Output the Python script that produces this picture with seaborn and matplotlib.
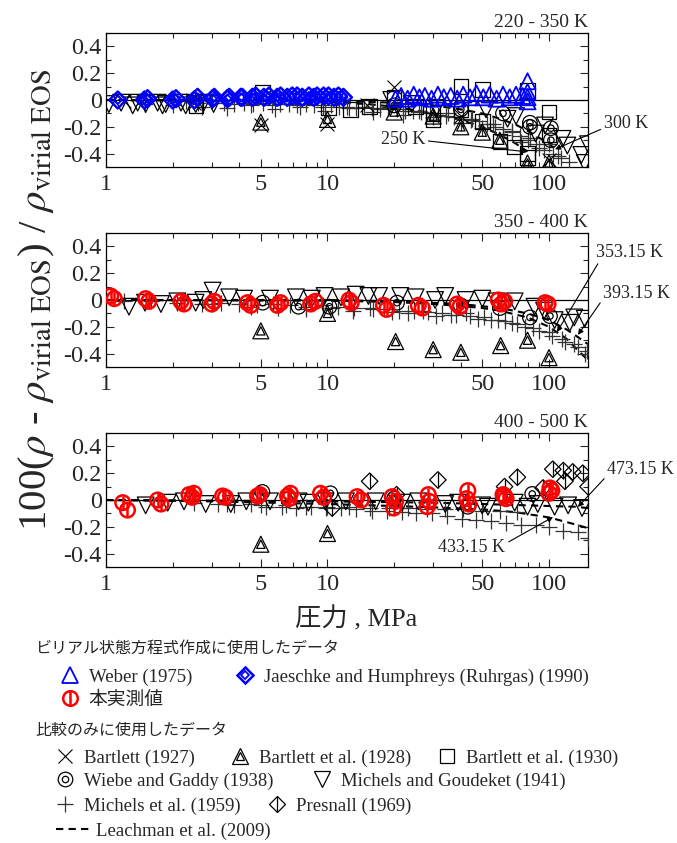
import matplotlib
matplotlib.use("Agg")
import matplotlib.pyplot as plt
from matplotlib.lines import Line2D
from matplotlib.ticker import FixedLocator, NullFormatter
import seaborn as sns

sns.set_style("ticks")
plt.rcParams["font.family"] = ["Liberation Serif", "Noto Sans CJK JP"]
plt.rcParams["mathtext.fontset"] = "stix"
plt.rcParams["axes.unicode_minus"] = False

# ---------------- 220 - 350 K ----------------
lo_jaeschke_p = [1.13, 1.49, 1.54, 2.00, 2.07, 2.50, 2.59, 3.03, 3.08, 3.53, 3.60, 4.06, 4.12, 4.58, 4.74, 5.16,
                 5.44, 5.93, 6.14, 6.58, 6.93, 7.29, 7.69, 8.24, 8.67, 8.97, 9.60, 10.1, 10.7, 11.2, 11.8]
lo_jaeschke_v = [0.00, 0.00, 0.01, 0.00, 0.01, 0.00, 0.02, 0.01, 0.02, 0.01, 0.02, 0.02, 0.02, 0.02, 0.03, 0.02,
                 0.03, 0.02, 0.03, 0.02, 0.03, 0.03, 0.02, 0.03, 0.02, 0.03, 0.03, 0.03, 0.02, 0.03, 0.02]
lo_weber_p = [20.3, 21.5, 23.0, 24.5, 26.0, 27.5, 29.5, 31.5, 33.5, 36.0, 38.5, 41.0, 44.0, 47.0, 50.5, 54.0,
              58.0, 62.0, 66.5, 71.0, 76.0, 80.0, 80.0, 80.0, 80.0]
lo_weber_v = [0.01, 0.03, 0.01, 0.04, 0.02, 0.03, 0.01, 0.04, 0.02, 0.03, 0.01, 0.04, 0.02, 0.05, 0.02, 0.04,
              0.01, 0.04, 0.02, 0.04, 0.03, 0.14, 0.06, 0.02, -0.01]
lo_bartlett27_p = [1.2, 2.5, 5.0, 10.0, 15.0, 20.0, 40.0, 100.0]
lo_bartlett27_v = [-0.01, -0.02, -0.19, -0.18, -0.04, 0.10, -0.12, -0.45]
lo_bartlett28_p = [5.0, 10.0, 20.0, 30.0, 40.0, 50.0, 60.0, 80.0, 100.0]
lo_bartlett28_v = [-0.165, -0.145, -0.09, -0.12, -0.20, -0.24, -0.30, -0.47, -0.47]
lo_bartlett30_p = [2.55, 5.1, 10.1, 12.7, 15.5, 20.0, 25.0, 30.0, 30.0, 40.0, 40.0, 50.0, 50.0, 60.0, 70.0,
                   80.0, 80.0, 80.0, 100.0, 100.0]
lo_bartlett30_v = [-0.04, 0.06, -0.06, -0.07, -0.05, 0.02, -0.05, -0.15, -0.10, 0.10, -0.07, 0.08, -0.16, -0.31,
                   -0.35, 0.07, -0.40, -0.43, -0.09, -0.26]
lo_wiebe_p = [20.0, 40.0, 62.0, 82.0, 82.0, 102.0, 102.0]
lo_wiebe_v = [-0.04, -0.07, -0.10, -0.17, -0.20, -0.21, -0.30]
lo_goudeket_p = [1.03, 1.17, 1.32, 1.39, 1.51, 1.71, 1.80, 1.86, 2.18, 2.29, 2.54, 2.76, 3.06, 19.4, 24.0,
                 31.0, 52.0, 65.0, 71.0, 87.0, 96.0, 115.0, 121.0, 140.0, 145.0, 150.0]
lo_goudeket_v = [-0.03, -0.02, -0.04, -0.02, -0.03, -0.02, -0.04, -0.03, -0.02, -0.04, -0.03, -0.02, -0.03,
                 0.00, -0.03, -0.06, -0.07, -0.14, -0.12, -0.25, -0.19, -0.29, -0.34, -0.41, -0.47, -0.33]
lo_michels59a_p = [2.3, 2.6, 3.0, 3.4, 3.8, 4.2, 4.6, 5.1, 5.6, 6.1, 6.7, 7.3, 8.0, 8.7, 9.5, 10.4, 11.3, 12.3,
                   13.4, 14.6, 15.9, 17.3, 18.8, 20.5, 22.3, 24.3, 26.5, 28.9, 31.5, 34.3, 37.4, 40.7, 44.3,
                   48.2, 52.5, 57.2, 62.3, 67.8, 73.8, 80.4, 87.5, 95.3, 103.8, 113.0, 123.0]
lo_michels59a_v = [-0.01, -0.02, -0.01, -0.02, -0.03, -0.02, -0.03, -0.02, -0.04, -0.03, -0.03, -0.04, -0.03,
                   -0.04, -0.05, -0.04, -0.05, -0.05, -0.06, -0.05, -0.06, -0.07, -0.06, -0.07, -0.08, -0.08,
                   -0.09, -0.10, -0.11, -0.12, -0.13, -0.14, -0.15, -0.16, -0.18, -0.20, -0.22, -0.24, -0.27,
                   -0.30, -0.33, -0.37, -0.40, -0.43, -0.46]
lo_michels59b_p = [1.5, 2.0, 2.7, 3.5, 4.5, 5.8, 7.5, 9.7, 12.5, 16.0, 19.0, 22.0, 26.0, 30.0, 35.0, 40.0,
                   45.0, 50.0, 56.0, 62.0, 68.0, 75.0, 82.0, 90.0, 100.0, 110.0]
lo_michels59b_v = [-0.03, -0.04, -0.05, -0.06, -0.04, -0.07, -0.05, -0.08, -0.06, -0.09, -0.05, -0.11, -0.08,
                   -0.13, -0.10, -0.17, -0.14, -0.21, -0.18, -0.26, -0.23, -0.31, -0.28, -0.36, -0.33, -0.42]
lo_leach250_p = [1, 5, 10, 15, 20, 30, 40, 50, 60, 70, 80]
lo_leach250_v = [0.0, -0.005, -0.015, -0.03, -0.05, -0.10, -0.15, -0.20, -0.26, -0.32, -0.385]
lo_leach300_p = [1, 10, 20, 30, 40, 50, 60, 70, 80, 90, 100, 106]
lo_leach300_v = [0.0, -0.005, -0.02, -0.04, -0.07, -0.10, -0.14, -0.18, -0.23, -0.28, -0.33, -0.36]

# ---------------- 350 - 400 K ----------------
mid_own_p = [1.05, 1.09, 1.51, 1.56, 2.18, 2.25, 3.00, 3.08, 4.35, 4.50, 5.94, 6.14, 8.40, 8.80, 12.5, 12.8,
             17.9, 18.5, 25.7, 26.8, 38.5, 39.6, 59.0, 61.0, 63.0, 96.0, 99.0]
mid_own_v = [0.03, 0.01, 0.01, -0.01, -0.01, -0.03, -0.03, -0.01, -0.02, -0.04, -0.04, -0.02, -0.03, -0.01,
             0.00, -0.02, -0.04, -0.07, -0.04, -0.06, -0.03, -0.05, 0.00, -0.03, -0.01, -0.02, -0.03]
mid_bartlett28_p = [5.0, 10.0, 20.3, 30.0, 40.0, 60.5, 80.0, 100.0]
mid_bartlett28_v = [-0.23, -0.10, -0.31, -0.37, -0.39, -0.34, -0.30, -0.43]
mid_wiebe_p = [5.1, 7.4, 10.2, 20.6, 40.0, 60.0, 82.0, 101.0]
mid_wiebe_v = [-0.02, -0.05, -0.05, -0.02, -0.04, -0.06, -0.13, -0.12]
mid_goudeket_p = [1.27, 1.5, 1.77, 2.1, 2.54, 2.75, 3.03, 3.6, 4.2, 5.5, 7.2, 8.5, 9.7, 11.5, 13.4, 15.3, 17.1,
                  21.3, 25.0, 30.6, 34.0, 42.0, 50.0, 58.0, 70.0, 86.0, 95.0, 106.0, 124.0, 130.0, 145.0]
mid_goudeket_v = [-0.05, -0.02, -0.03, -0.01, -0.02, 0.00, 0.07, 0.02, 0.01, 0.01, 0.02, 0.01, 0.03, 0.02,
                  0.04, 0.03, 0.03, 0.03, 0.02, 0.00, 0.03, 0.00, 0.01, -0.01, -0.01, -0.05, -0.08, -0.15,
                  -0.17, -0.13, -0.14]
mid_michels59a_p = [1.2, 1.6, 2.1, 2.7, 3.3, 4.0, 4.8, 5.7, 6.8, 8.0, 9.5, 11.2, 13.2, 15.5, 18.0, 21.0, 24.5,
                    28.5, 33.0, 38.0, 44.0, 51.0, 59.0, 68.0, 78.0, 90.0, 103.0, 118.0, 135.0, 148.0]
mid_michels59a_v = [-0.01, -0.01, -0.02, -0.03, -0.02, -0.03, -0.04, -0.03, -0.04, -0.05, -0.04, -0.05, -0.06,
                    -0.06, -0.07, -0.08, -0.08, -0.09, -0.10, -0.11, -0.12, -0.13, -0.15, -0.17, -0.20, -0.23,
                    -0.27, -0.31, -0.35, -0.38]
mid_michels59b_p = [3.0, 4.5, 6.0, 8.0, 10.5, 13.0, 16.0, 19.5, 23.0, 27.0, 31.0, 36.0, 42.0, 48.0, 55.0, 63.0,
                    72.0, 85.0, 100.0, 115.0, 130.0, 145.0]
mid_michels59b_v = [-0.03, -0.05, -0.06, -0.07, -0.06, -0.08, -0.07, -0.09, -0.10, -0.08, -0.12, -0.11, -0.10,
                    -0.14, -0.15, -0.16, -0.18, -0.21, -0.24, -0.29, -0.33, -0.40]
mid_leach353_p = [1, 10, 20, 30, 40, 50, 60, 80, 100, 120, 150]
mid_leach353_v = [0.0, -0.005, -0.015, -0.03, -0.045, -0.06, -0.08, -0.13, -0.20, -0.29, -0.45]
mid_leach393_p = [1, 10, 20, 40, 60, 80, 100, 120, 136, 150]
mid_leach393_v = [0.0, 0.0, -0.01, -0.03, -0.06, -0.10, -0.15, -0.22, -0.28, -0.33]

# ---------------- 400 - 500 K ----------------
hi_own_p = [1.19, 1.25, 1.71, 1.77, 2.37, 2.45, 2.49, 3.36, 3.46, 4.83, 4.95, 6.6, 6.8, 6.7, 9.3, 9.6, 13.6,
            14.2, 19.6, 19.9, 20.3, 28.5, 28.2, 28.8, 43.0, 42.5, 43.5, 63.0, 64.0, 62.0, 101.0, 103.0, 100.0]
hi_own_v = [-0.02, -0.075, 0.00, -0.03, 0.04, 0.02, 0.05, 0.03, 0.02, 0.03, 0.04, 0.03, 0.05, 0.01, 0.05, 0.02,
            0.025, 0.00, 0.025, -0.06, -0.01, 0.04, -0.05, -0.01, 0.07, 0.01, -0.03, 0.03, 0.01, 0.04, 0.09,
            0.07, 0.05]
hi_presnall_p = [10.5, 15.5, 20.5, 31.5, 63.0, 72.0, 94.0, 104.0, 116.0, 118.0, 128.0, 142.0, 150.0]
hi_presnall_v = [-0.06, 0.14, 0.04, 0.15, 0.10, 0.17, 0.09, 0.23, 0.22, 0.14, 0.21, 0.20, 0.10]
hi_goudeket_p = [1.51, 1.9, 2.25, 2.82, 3.66, 4.3, 5.5, 7.4, 8.2, 9.8, 12.1, 16.5, 21.7, 25.7, 34.0, 38.9,
                 49.9, 53.0, 70.0, 80.0, 89.0, 106.0, 122.0, 141.0]
hi_goudeket_v = [-0.04, -0.02, -0.01, -0.03, -0.03, -0.01, -0.01, -0.01, -0.02, -0.01, -0.01, -0.01, -0.02,
                 -0.01, -0.03, -0.02, -0.04, -0.05, -0.02, -0.05, -0.03, -0.05, -0.04, -0.06]
hi_wiebe_p = [5.08, 10.3, 20.0, 43.0, 84.0]
hi_wiebe_v = [0.06, 0.05, 0.01, -0.05, 0.045]
hi_bartlett28_p = [5.0, 10.0]
hi_bartlett28_v = [-0.33, -0.25]
hi_michels59a_p = [3.2, 3.8, 4.5, 5.3, 6.2, 7.2, 8.4, 9.8, 11.5, 13.5, 15.8, 18.5, 21.6, 25.2, 29.5, 34.5,
                   40.3, 47.0, 55.0, 64.0, 75.0, 87.0, 100.0, 116.0, 135.0, 150.0]
hi_michels59a_v = [-0.03, -0.04, -0.03, -0.05, -0.05, -0.06, -0.05, -0.06, -0.06, -0.07, -0.08, -0.08, -0.09,
                   -0.10, -0.10, -0.12, -0.14, -0.15, -0.16, -0.17, -0.19, -0.19, -0.20, -0.23, -0.24, -0.28]
hi_michels59b_p = [2.5, 3.5, 5.0, 6.5, 8.0, 10.0, 12.5, 15.5, 19.0, 23.0, 28.0, 34.0, 41.0, 50.0, 60.0, 72.0]
hi_michels59b_v = [-0.02, -0.03, -0.04, -0.04, -0.05, -0.05, -0.05, -0.06, -0.06, -0.06, -0.07, -0.07, -0.07,
                   -0.08, -0.08, -0.09]
hi_leach433_p = [1, 3, 10, 20, 30, 50, 70, 100, 130, 150]
hi_leach433_v = [0.0, -0.01, -0.03, -0.045, -0.055, -0.07, -0.09, -0.13, -0.18, -0.21]
hi_leach473_p = [1, 10, 30, 50, 80, 100, 130, 150]
hi_leach473_v = [0.0, -0.01, -0.02, -0.03, -0.04, -0.045, -0.05, -0.06]

panel_titles = ["220 - 350 K", "350 - 400 K", "400 - 500 K"]
x_ticks = [1, 5, 10, 50, 100]
x_minor = [2, 3, 4, 6, 7, 8, 9, 20, 30, 40, 60, 70, 80, 90]
y_ticks = [-0.4, -0.2, 0.0, 0.2, 0.4]
y_ticklabels = ["-0.4", "-0.2", "0", "0.2", "0.4"]

BLUE = "#0000ff"
RED = "#ff0000"
DASH = (0, (3.5, 2.5))

# marker styles: list of (marker, size in pt, line width) layers drawn on top of each other
STY = {
    "weber": [("^", 11.5, 1.3)],
    "jaeschke": [("D", 8.6, 1.8), ("D", 4.2, 1.3)],
    "own": [("o", 10.5, 1.8), ("|", 10.5, 1.8)],
    "bartlett27": [("x", 10, 0.8)],
    "bartlett28": [("^", 11.5, 0.9), ("^", 6.0, 0.9)],
    "bartlett30": [("s", 10.5, 0.9)],
    "wiebe": [("o", 10.5, 0.9), ("o", 4.6, 0.9)],
    "goudeket": [("v", 12, 0.9)],
    "michels59": [("+", 11, 0.9)],
    "presnall": [("D", 8.4, 0.9), ("|", 11.8, 0.9)],
}
COL = {"weber": BLUE, "jaeschke": BLUE, "own": RED, "michels59": "0.2"}


def draw(ax, p, v, key, z=3):
    color = COL.get(key, "k")
    for mk, ms, lw in STY[key]:
        if mk in ("x", "+", "|"):
            sns.scatterplot(x=p, y=v, ax=ax, marker=mk, s=ms ** 2, color=color,
                            linewidth=lw, zorder=z, legend=False)
        else:
            sns.scatterplot(x=p, y=v, ax=ax, marker=mk, s=ms ** 2, color=color,
                            facecolor="none", edgecolor=color, linewidth=lw,
                            zorder=z, legend=False)


def leach(ax, p, v):
    sns.lineplot(x=p, y=v, ax=ax, color="k", lw=1.5, linestyle=DASH,
                 estimator=None, sort=False, zorder=2.5, legend=False)


W, H = 677, 843
fig = plt.figure(figsize=(W / 100, H / 100), dpi=100)
left, width = 106 / W, 482 / W
tops = [33, 233, 433]
axes = []
for t in tops:
    ax = fig.add_axes([left, 1 - (t + 134) / H, width, 134 / H])
    axes.append(ax)

for ax, title in zip(axes, panel_titles):
    ax.axhline(0, color="k", lw=0.9, zorder=1.5)
    ax.set_xscale("log")
    ax.set_xlim(1, 150)
    ax.set_ylim(-0.5, 0.5)
    ax.xaxis.set_major_locator(FixedLocator(x_ticks))
    ax.xaxis.set_minor_locator(FixedLocator(x_minor))
    ax.set_xticks(x_ticks, labels=[str(t) for t in x_ticks])
    ax.xaxis.set_minor_formatter(NullFormatter())
    ax.set_yticks(y_ticks, labels=y_ticklabels)
    ax.yaxis.set_minor_locator(FixedLocator([-0.5, -0.3, -0.1, 0.1, 0.3, 0.5]))
    ax.tick_params(which="both", direction="in", top=True, right=True, width=0.8)
    ax.tick_params(which="major", length=6, labelsize=17.5)
    ax.tick_params(axis="x", which="major", pad=5)
    ax.tick_params(axis="y", which="major", pad=3)
    ax.tick_params(which="minor", length=3.5)
    for s in ax.spines.values():
        s.set_linewidth(0.9)
        s.set_color("k")
    ax.set_title(title, loc="right", fontsize=14, pad=4)

# 220 - 350 K
a = axes[0]
leach(a, lo_leach250_p, lo_leach250_v)
leach(a, lo_leach300_p, lo_leach300_v)
draw(a, lo_michels59a_p, lo_michels59a_v, "michels59")
draw(a, lo_michels59b_p, lo_michels59b_v, "michels59")
draw(a, lo_goudeket_p, lo_goudeket_v, "goudeket")
draw(a, lo_bartlett27_p, lo_bartlett27_v, "bartlett27")
draw(a, lo_bartlett28_p, lo_bartlett28_v, "bartlett28")
draw(a, lo_bartlett30_p, lo_bartlett30_v, "bartlett30")
draw(a, lo_wiebe_p, lo_wiebe_v, "wiebe")
draw(a, lo_jaeschke_p, lo_jaeschke_v, "jaeschke", z=4)
draw(a, lo_weber_p, lo_weber_v, "weber", z=4)

arrow = dict(arrowstyle="-|>", color="k", lw=0.8, mutation_scale=8, shrinkA=0, shrinkB=0)
a.annotate("250 K", xy=(79.6, -0.387), xytext=(21.9, -0.297), ha="center", va="center",
           fontsize=13, arrowprops=dict(arrow, relpos=(1.0, 0.45)), zorder=6)
a.annotate("300 K", xy=(106.4, -0.368), xytext=(222.7, -0.177), ha="center", va="center",
           fontsize=13, arrowprops=dict(arrow, relpos=(0.0, 0.25)), zorder=6)

# 350 - 400 K
a = axes[1]
leach(a, mid_leach353_p, mid_leach353_v)
leach(a, mid_leach393_p, mid_leach393_v)
draw(a, mid_michels59a_p, mid_michels59a_v, "michels59")
draw(a, mid_michels59b_p, mid_michels59b_v, "michels59")
draw(a, mid_goudeket_p, mid_goudeket_v, "goudeket")
draw(a, mid_bartlett28_p, mid_bartlett28_v, "bartlett28")
draw(a, mid_wiebe_p, mid_wiebe_v, "wiebe")
draw(a, mid_own_p, mid_own_v, "own", z=4)
a.annotate("353.15 K", xy=(108.7, -0.239), xytext=(232, 0.358), ha="center", va="center",
           fontsize=13, arrowprops=dict(arrow, relpos=(0.05, 0.0)), zorder=6)
a.annotate("393.15 K", xy=(135.2, -0.26), xytext=(249.6, 0.052), ha="center", va="center",
           fontsize=13, arrowprops=dict(arrow, relpos=(0.0, 0.2)), zorder=6)

# 400 - 500 K
a = axes[2]
leach(a, hi_leach433_p, hi_leach433_v)
leach(a, hi_leach473_p, hi_leach473_v)
draw(a, hi_michels59a_p, hi_michels59a_v, "michels59")
draw(a, hi_michels59b_p, hi_michels59b_v, "michels59")
draw(a, hi_goudeket_p, hi_goudeket_v, "goudeket")
draw(a, hi_bartlett28_p, hi_bartlett28_v, "bartlett28")
draw(a, hi_wiebe_p, hi_wiebe_v, "wiebe")
draw(a, hi_presnall_p, hi_presnall_v, "presnall")
draw(a, hi_own_p, hi_own_v, "own", z=4)
a.annotate("473.15 K", xy=(135.0, -0.052), xytext=(260, 0.224), ha="center", va="center",
           fontsize=13, arrowprops=dict(arrow, relpos=(0.0, 0.2)), zorder=6)
a.annotate("433.15 K", xy=(104.3, -0.127), xytext=(44.9, -0.351), ha="center", va="center",
           fontsize=13, arrowprops=dict(arrow, relpos=(1.0, 0.7)), zorder=6)
a.set_xlabel("圧力 , MPa", fontsize=19)
a.xaxis.set_label_coords((356 - 106) / 482, -0.29)

fig.text(37 / W, 1 - 300 / H,
         r"100($\rho$ - $\rho_{\mathrm{virial\ EOS}}$) / $\rho_{\mathrm{virial\ EOS}}$",
         rotation=90, ha="center", va="center", fontsize=29.5)


# ---------------- legend ----------------
LEG_FS = 13.5
EM = LEG_FS * 100 / 72  # legend font size in pixels


def handle(key):
    if key == "leach":
        return Line2D([], [], color="k", lw=1.5, ls=DASH)
    color = COL.get(key, "k")
    parts = [Line2D([], [], ls="none", marker=mk, ms=ms, mfc="none", mec=color, mew=lw)
             for mk, ms, lw in STY[key]]
    return tuple(parts) if len(parts) > 1 else parts[0]


def legend_entry(key, label, x, y, hlen=1.0, tpad=0.5):
    # x is the centre of the key symbol (start of the line for line keys)
    x0 = x - hlen * EM / 2 if key != "leach" else x
    fig.legend([handle(key)], [label], loc="center left", bbox_to_anchor=(x0 / W, 1 - y / H),
               frameon=False, fontsize=LEG_FS, handlelength=hlen, handletextpad=tpad,
               borderpad=0, borderaxespad=0, numpoints=1)


cjk = ["Noto Sans CJK JP"]
fig.text(35 / W, 1 - 648 / H, "ビリアル状態方程式作成に使用したデータ", family=cjk, fontsize=11.5,
         ha="left", va="center")
legend_entry("weber", "Weber (1975)", 70, 677)
legend_entry("jaeschke", "Jaeschke and Humphreys (Ruhrgas) (1990)", 245, 677)
legend_entry("own", "本実測値", 70, 700)
fig.text(35 / W, 1 - 730 / H, "比較のみに使用したデータ", family=cjk, fontsize=11.5,
         ha="left", va="center")
legend_entry("bartlett27", "Bartlett (1927)", 65, 758)
legend_entry("bartlett28", "Bartlett et al. (1928)", 240, 758)
legend_entry("bartlett30", "Bartlett et al. (1930)", 447, 758)
legend_entry("wiebe", "Wiebe and Gaddy (1938)", 65, 781)
legend_entry("goudeket", "Michels and Goudeket (1941)", 322, 781)
legend_entry("michels59", "Michels et al. (1959)", 65, 806)
legend_entry("presnall", "Presnall (1969)", 277, 806)
legend_entry("leach", "Leachman et al. (2009)", 56, 831, hlen=36 / EM, tpad=4 / EM)

fig.savefig("out.png", dpi=100)
